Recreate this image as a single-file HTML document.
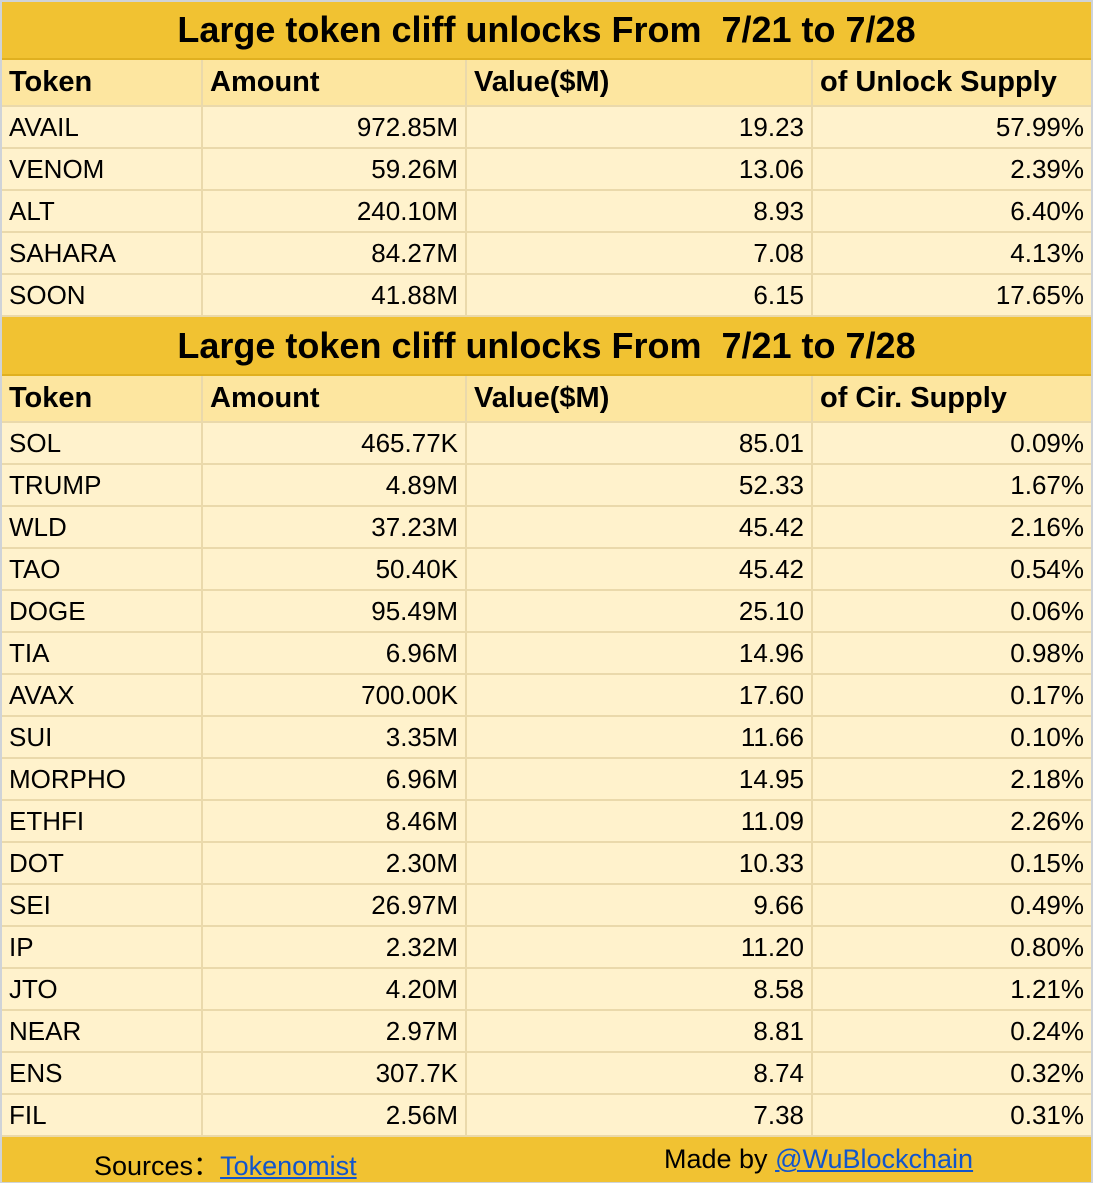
<!DOCTYPE html>
<html><head><meta charset="utf-8"><style>
body{margin:0;width:1096px;height:1186px;background:#fff;position:relative;overflow:hidden;font-family:"Liberation Sans",Arial,sans-serif;}
.frame{position:absolute;left:0;top:0;width:1093px;height:1183px;background:#cfd3d8;}
.r{position:absolute;left:2px;width:1089px;box-sizing:border-box;}
.title{background:#f1c232;font-weight:bold;font-size:36px;text-align:center;color:#000;border-bottom:2px solid #e0b020;}
.hdr{background:#fde6a0;font-weight:bold;font-size:29px;}
.row{background:#fff2cc;font-size:26px;}
.c{position:absolute;top:0;bottom:0;box-sizing:border-box;border-right:2px solid #ead9ab;border-bottom:2px solid #ead9ab;display:flex;align-items:center;padding:0 7px;}
.c0{left:0;width:201px}.c1{left:201px;width:264px;justify-content:flex-end}.c2{left:465px;width:346px;justify-content:flex-end}.c3{left:811px;width:278px;justify-content:flex-end;border-right:none}
.hdr .c{justify-content:flex-start}
.foot{background:#f1c232;font-size:27px;}
a{color:#1155cc;text-decoration:underline;}
</style></head><body>
<div class="frame"></div>
<div id="t"></div>
<script>
const t1=[["AVAIL","972.85M","19.23","57.99%"],["VENOM","59.26M","13.06","2.39%"],["ALT","240.10M","8.93","6.40%"],["SAHARA","84.27M","7.08","4.13%"],["SOON","41.88M","6.15","17.65%"]];
const t2=[["SOL","465.77K","85.01","0.09%"],["TRUMP","4.89M","52.33","1.67%"],["WLD","37.23M","45.42","2.16%"],["TAO","50.40K","45.42","0.54%"],["DOGE","95.49M","25.10","0.06%"],["TIA","6.96M","14.96","0.98%"],["AVAX","700.00K","17.60","0.17%"],["SUI","3.35M","11.66","0.10%"],["MORPHO","6.96M","14.95","2.18%"],["ETHFI","8.46M","11.09","2.26%"],["DOT","2.30M","10.33","0.15%"],["SEI","26.97M","9.66","0.49%"],["IP","2.32M","11.20","0.80%"],["JTO","4.20M","8.58","1.21%"],["NEAR","2.97M","8.81","0.24%"],["ENS","307.7K","8.74","0.32%"],["FIL","2.56M","7.38","0.31%"]];
const root=document.getElementById('t');
function mk(cls,top,h,name){const d=document.createElement('div');d.className='r '+cls;d.style.top=top+'px';d.style.height=h+'px';


root.appendChild(d);return d;}
function cells(d,vals){vals.forEach((v,i)=>{const c=document.createElement('div');c.className='c c'+i;c.textContent=v;


d.appendChild(c);});}
function title(top,h){const d=mk('title',top,h,'table-title');d.style.lineHeight=(h-2)+'px';d.textContent='Large token cliff unlocks From  7/21 to 7/28';d.style.whiteSpace='pre';}
title(2,58);
cells(mk('hdr',60,47,'header-row'),["Token","Amount","Value($M)","of Unlock Supply"]);
t1.forEach((r,i)=>cells(mk('row',107+i*42,42,'data-row'),r));
title(317,59);
cells(mk('hdr',376,47,'header-row'),["Token","Amount","Value($M)","of Cir. Supply"]);
t2.forEach((r,i)=>cells(mk('row',423+i*42,42,'data-row'),r));
</script>
<div class="r foot" style="top:1137px;height:45px;">
<span style="position:absolute;left:92px;top:7px">Sources：<a>Tokenomist</a></span>
<span style="position:absolute;left:662px;top:7px">Made by <a>@WuBlockchain</a></span>
</div>
</body></html>
